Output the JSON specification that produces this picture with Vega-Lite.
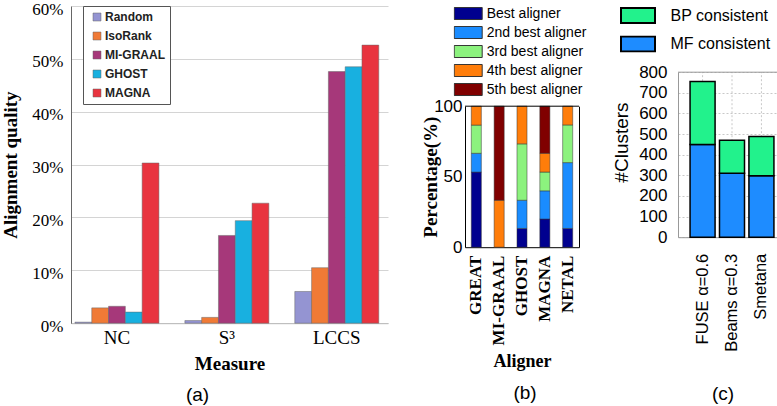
{
  "$schema": "https://vega.github.io/schema/vega-lite/v6.json",
  "background": "white",
  "padding": {"left": 1, "top": 0, "right": 0, "bottom": 0},
  "config": {"view": {"stroke": null}, "axis": {"labelColor": "#000", "titleColor": "#000"}, "axisY": {"labelOverlap": false}},
  "resolve": {"scale": {"color": "independent"}, "legend": {"color": "independent"}},
  "spacing": 33,
  "hconcat": [
    {
      "width": 317,
      "height": 317.2,
      "data": {"values": [
        {"measure": "NC", "aligner": "Random", "value": 0.2},
        {"measure": "NC", "aligner": "IsoRank", "value": 2.9},
        {"measure": "NC", "aligner": "MI-GRAAL", "value": 3.2},
        {"measure": "NC", "aligner": "GHOST", "value": 2.1},
        {"measure": "NC", "aligner": "MAGNA", "value": 30.3},
        {"measure": "S³", "aligner": "Random", "value": 0.5},
        {"measure": "S³", "aligner": "IsoRank", "value": 1.1},
        {"measure": "S³", "aligner": "MI-GRAAL", "value": 16.6},
        {"measure": "S³", "aligner": "GHOST", "value": 19.4},
        {"measure": "S³", "aligner": "MAGNA", "value": 22.7},
        {"measure": "LCCS", "aligner": "Random", "value": 6.0},
        {"measure": "LCCS", "aligner": "IsoRank", "value": 10.5},
        {"measure": "LCCS", "aligner": "MI-GRAAL", "value": 47.6},
        {"measure": "LCCS", "aligner": "GHOST", "value": 48.5},
        {"measure": "LCCS", "aligner": "MAGNA", "value": 52.6}
      ]},
      "mark": {"type": "bar", "stroke": "#666", "strokeWidth": 0.5},
      "encoding": {
        "x": {"field": "measure", "type": "nominal", "sort": ["NC", "S³", "LCCS"],
          "scale": {"paddingInner": 0.236, "paddingOuter": 0.06, "align": 0.3},
          "axis": {"title": "Measure", "labelAngle": 0, "labelFont": "Liberation Serif", "labelFontSize": 19, "labelPadding": 5, "ticks": false, "domainColor": "#bbb",
            "titleFont": "Liberation Serif", "titleFontSize": 19, "titleFontWeight": "bold", "titlePadding": 7}},
        "xOffset": {"field": "aligner", "type": "nominal", "sort": ["Random", "IsoRank", "MI-GRAAL", "GHOST", "MAGNA"], "scale": {"paddingInner": 0, "paddingOuter": 0}},
        "y": {"field": "value", "type": "quantitative", "scale": {"domain": [0, 60], "nice": false},
          "axis": {"values": [0, 10, 20, 30, 40, 50, 60], "labelExpr": "datum.value + '%'", "grid": true, "gridColor": "#d4d4d4", "domainColor": "#666", "ticks": false,
            "labelFont": "Liberation Serif", "labelFontSize": 17, "labelPadding": 8, "labelOffset": 3,
            "title": "Alignment quality", "titleFont": "Liberation Serif", "titleFontSize": 19, "titleFontWeight": "bold", "titlePadding": 11}},
        "color": {"field": "aligner", "type": "nominal",
          "scale": {"domain": ["Random", "IsoRank", "MI-GRAAL", "GHOST", "MAGNA"], "range": ["#9494d2", "#f07a36", "#a6387a", "#18b0e0", "#e8343f"]},
          "legend": {"title": null, "orient": "none", "legendX": 12, "legendY": 0, "strokeColor": "#555", "fillColor": "white", "padding": 5,
            "symbolType": "square", "symbolSize": 64, "symbolOffset": 3, "symbolStrokeColor": "#666", "symbolStrokeWidth": 0.5,
            "labelFont": "Liberation Sans", "labelFontSize": 12, "labelFontWeight": "bold", "labelColor": "#222", "labelOffset": 2, "rowPadding": 7}}
      },
      "title": {"text": "(a)", "orient": "bottom", "frame": "group", "anchor": "middle", "dx": -32, "offset": 13, "font": "Liberation Sans", "fontSize": 19, "fontWeight": "normal", "color": "#000"}
    },
    {
      "spacing": 25,
      "resolve": {"scale": {"color": "independent"}, "legend": {"color": "independent"}},
      "hconcat": [
        {
          "width": 114,
          "height": 241.2,
          "layer": [
            {
              "data": {"values": [
                {"aligner": "GREAT", "rank": "Best aligner", "rank_no": 1, "pct": 53.3},
                {"aligner": "GREAT", "rank": "2nd best aligner", "rank_no": 2, "pct": 13.3},
                {"aligner": "GREAT", "rank": "3rd best aligner", "rank_no": 3, "pct": 20.0},
                {"aligner": "GREAT", "rank": "4th best aligner", "rank_no": 4, "pct": 13.4},
                {"aligner": "MI-GRAAL", "rank": "4th best aligner", "rank_no": 4, "pct": 33.3},
                {"aligner": "MI-GRAAL", "rank": "5th best aligner", "rank_no": 5, "pct": 66.7},
                {"aligner": "GHOST", "rank": "Best aligner", "rank_no": 1, "pct": 13.3},
                {"aligner": "GHOST", "rank": "2nd best aligner", "rank_no": 2, "pct": 20.0},
                {"aligner": "GHOST", "rank": "3rd best aligner", "rank_no": 3, "pct": 40.0},
                {"aligner": "GHOST", "rank": "4th best aligner", "rank_no": 4, "pct": 26.7},
                {"aligner": "MAGNA", "rank": "Best aligner", "rank_no": 1, "pct": 20.0},
                {"aligner": "MAGNA", "rank": "2nd best aligner", "rank_no": 2, "pct": 20.0},
                {"aligner": "MAGNA", "rank": "3rd best aligner", "rank_no": 3, "pct": 13.3},
                {"aligner": "MAGNA", "rank": "4th best aligner", "rank_no": 4, "pct": 13.3},
                {"aligner": "MAGNA", "rank": "5th best aligner", "rank_no": 5, "pct": 33.4},
                {"aligner": "NETAL", "rank": "Best aligner", "rank_no": 1, "pct": 13.3},
                {"aligner": "NETAL", "rank": "2nd best aligner", "rank_no": 2, "pct": 46.7},
                {"aligner": "NETAL", "rank": "3rd best aligner", "rank_no": 3, "pct": 26.7},
                {"aligner": "NETAL", "rank": "4th best aligner", "rank_no": 4, "pct": 13.3}
              ]},
              "mark": {"type": "bar", "stroke": "#333", "strokeWidth": 0.5},
              "encoding": {
                "x": {"field": "aligner", "type": "nominal", "sort": ["GREAT", "MI-GRAAL", "GHOST", "MAGNA", "NETAL"],
                  "scale": {"paddingInner": 0.56, "paddingOuter": 0.275},
                  "axis": {"title": "Aligner", "labelAngle": -90, "labelFont": "Liberation Serif", "labelFontSize": 17, "labelFontWeight": "bold", "labelPadding": 8, "ticks": false, "domain": true, "domainColor": "#000",
                    "titleFont": "Liberation Serif", "titleFontSize": 18, "titleFontWeight": "bold", "titlePadding": 8}},
                "y": {"field": "pct", "type": "quantitative", "stack": "zero", "scale": {"domain": [0, 100], "nice": false, "range": [241.2, 100.2]},
                  "axis": {"values": [0, 50, 100], "grid": false, "ticks": false, "domain": true, "domainColor": "#000", "labelFont": "Liberation Sans", "labelFontSize": 17, "labelPadding": 3,
                    "title": "Percentage(%)", "titleFont": "Liberation Serif", "titleFontSize": 19, "titleFontWeight": "bold", "titlePadding": -7}},
                "order": {"field": "rank_no", "type": "quantitative", "sort": "ascending"},
                "color": {"field": "rank", "type": "nominal",
                  "scale": {"domain": ["Best aligner", "2nd best aligner", "3rd best aligner", "4th best aligner", "5th best aligner"], "range": ["#00008f", "#1a8cff", "#8cf27e", "#ff7d0a", "#800000"]},
                  "legend": {"title": null, "orient": "none", "legendX": -11.3, "legendY": 1, "padding": 0, "clipHeight": 13, "rowPadding": 4,
                    "symbolType": "M-1,-0.43H1V0.43H-1Z", "symbolSize": 784, "symbolStrokeColor": "#333", "symbolStrokeWidth": 1,
                    "labelFont": "Liberation Sans", "labelFontSize": 14, "labelColor": "#000", "labelOffset": 4}}
              }
            },
            {
              "data": {"values": [{"edge": "top"}]},
              "mark": {"type": "rule", "color": "#000", "strokeWidth": 1},
              "encoding": {
                "y": {"datum": 100, "type": "quantitative",
                  "axis": {"orient": "right", "labels": false, "ticks": false, "grid": false, "domain": true, "domainColor": "#000", "title": null}}
              }
            }
          ],
          "resolve": {"axis": {"y": "independent"}},
          "title": {"text": "(b)", "orient": "bottom", "frame": "group", "anchor": "middle", "dx": 3, "offset": 13, "font": "Liberation Sans", "fontSize": 19, "fontWeight": "normal", "color": "#000"}
        },
        {
          "width": 108,
          "height": 231.2,
          "layer": [
            {
              "data": {"values": [{"method": "FUSE α=0.6"}, {"method": "Beams α=0.3"}, {"method": "Smetana"}]},
              "mark": {"type": "rule", "color": "#c8c8c8", "strokeDash": [2, 2], "strokeWidth": 1},
              "encoding": {
                "x": {"field": "method", "type": "nominal", "sort": ["FUSE α=0.6", "Beams α=0.3", "Smetana"],
                  "axis": {"title": null, "labelAngle": -90, "labelFont": "Liberation Sans", "labelFontSize": 16.5, "labelPadding": 16, "ticks": false, "domain": true, "domainColor": "#999", "grid": false}},
                "y": {"datum": 0, "type": "quantitative",
                  "axis": {"values": [0, 100, 200, 300, 400, 500, 600, 700, 800], "labelOverlap": false, "grid": true, "gridDash": [2, 2], "gridColor": "#c8c8c8", "ticks": false, "domain": true, "domainColor": "#999",
                    "labelFont": "Liberation Sans", "labelFontSize": 17, "labelPadding": 11,
                    "title": "#Clusters", "titleFont": "Liberation Sans", "titleFontSize": 19, "titleFontWeight": "normal", "titlePadding": 7, "titleY": 136}},
                "y2": {"datum": 800}
              }
            },
            {
              "data": {"values": [
                {"method": "FUSE α=0.6", "type": "MF consistent", "count": 450},
                {"method": "FUSE α=0.6", "type": "BP consistent", "count": 305},
                {"method": "Beams α=0.3", "type": "MF consistent", "count": 310},
                {"method": "Beams α=0.3", "type": "BP consistent", "count": 160},
                {"method": "Smetana", "type": "MF consistent", "count": 298},
                {"method": "Smetana", "type": "BP consistent", "count": 190}
              ]},
              "mark": {"type": "bar", "stroke": "#000", "strokeWidth": 1.5},
              "encoding": {
                "x": {"field": "method", "type": "nominal", "sort": ["FUSE α=0.6", "Beams α=0.3", "Smetana"],
                  "scale": {"paddingInner": 0.15, "paddingOuter": 0.41},
                  "axis": {"title": null, "labelAngle": -90, "labelFont": "Liberation Sans", "labelFontSize": 16.5, "labelPadding": 16, "ticks": false, "domain": true, "domainColor": "#999", "grid": false}},
                "y": {"field": "count", "type": "quantitative", "stack": "zero", "scale": {"domain": [0, 800], "nice": false, "range": [231.2, 66.2]},
                  "axis": {"values": [0, 100, 200, 300, 400, 500, 600, 700, 800], "labelOverlap": false, "grid": true, "gridDash": [2, 2], "gridColor": "#c8c8c8", "ticks": false, "domain": true, "domainColor": "#999",
                    "labelFont": "Liberation Sans", "labelFontSize": 17, "labelPadding": 11,
                    "title": "#Clusters", "titleFont": "Liberation Sans", "titleFontSize": 19, "titleFontWeight": "normal", "titlePadding": 7, "titleY": 136}},
                "order": {"field": "type", "type": "nominal", "sort": "descending"},
                "color": {"field": "type", "type": "nominal",
                  "scale": {"domain": ["BP consistent", "MF consistent"], "range": ["#22f28c", "#1e8cff"]},
                  "legend": {"title": null, "orient": "none", "legendX": -58, "legendY": 1, "padding": 0, "clipHeight": 17, "rowPadding": 11.5,
                    "symbolType": "M-1,-0.44H1V0.44H-1Z", "symbolSize": 1156, "symbolStrokeColor": "#000", "symbolStrokeWidth": 2,
                    "labelFont": "Liberation Sans", "labelFontSize": 16, "labelColor": "#000", "labelOffset": 14.5}}
              }
            },
            {
              "data": {"values": [{"edge": "top"}]},
              "mark": {"type": "rule", "color": "#999", "strokeWidth": 1},
              "encoding": {
                "y": {"datum": 800, "type": "quantitative",
                  "axis": {"values": [0, 100, 200, 300, 400, 500, 600, 700, 800], "labelOverlap": false, "grid": true, "gridDash": [2, 2], "gridColor": "#c8c8c8", "ticks": false, "domain": true, "domainColor": "#999",
                    "labelFont": "Liberation Sans", "labelFontSize": 17, "labelPadding": 11,
                    "title": "#Clusters", "titleFont": "Liberation Sans", "titleFontSize": 19, "titleFontWeight": "normal", "titlePadding": 7, "titleY": 136}}
              }
            }
          ],
          "title": {"text": "(c)", "orient": "bottom", "frame": "group", "anchor": "middle", "dx": -9, "offset": 34, "font": "Liberation Sans", "fontSize": 19, "fontWeight": "normal", "color": "#000"}
        }
      ]
    }
  ]
}
